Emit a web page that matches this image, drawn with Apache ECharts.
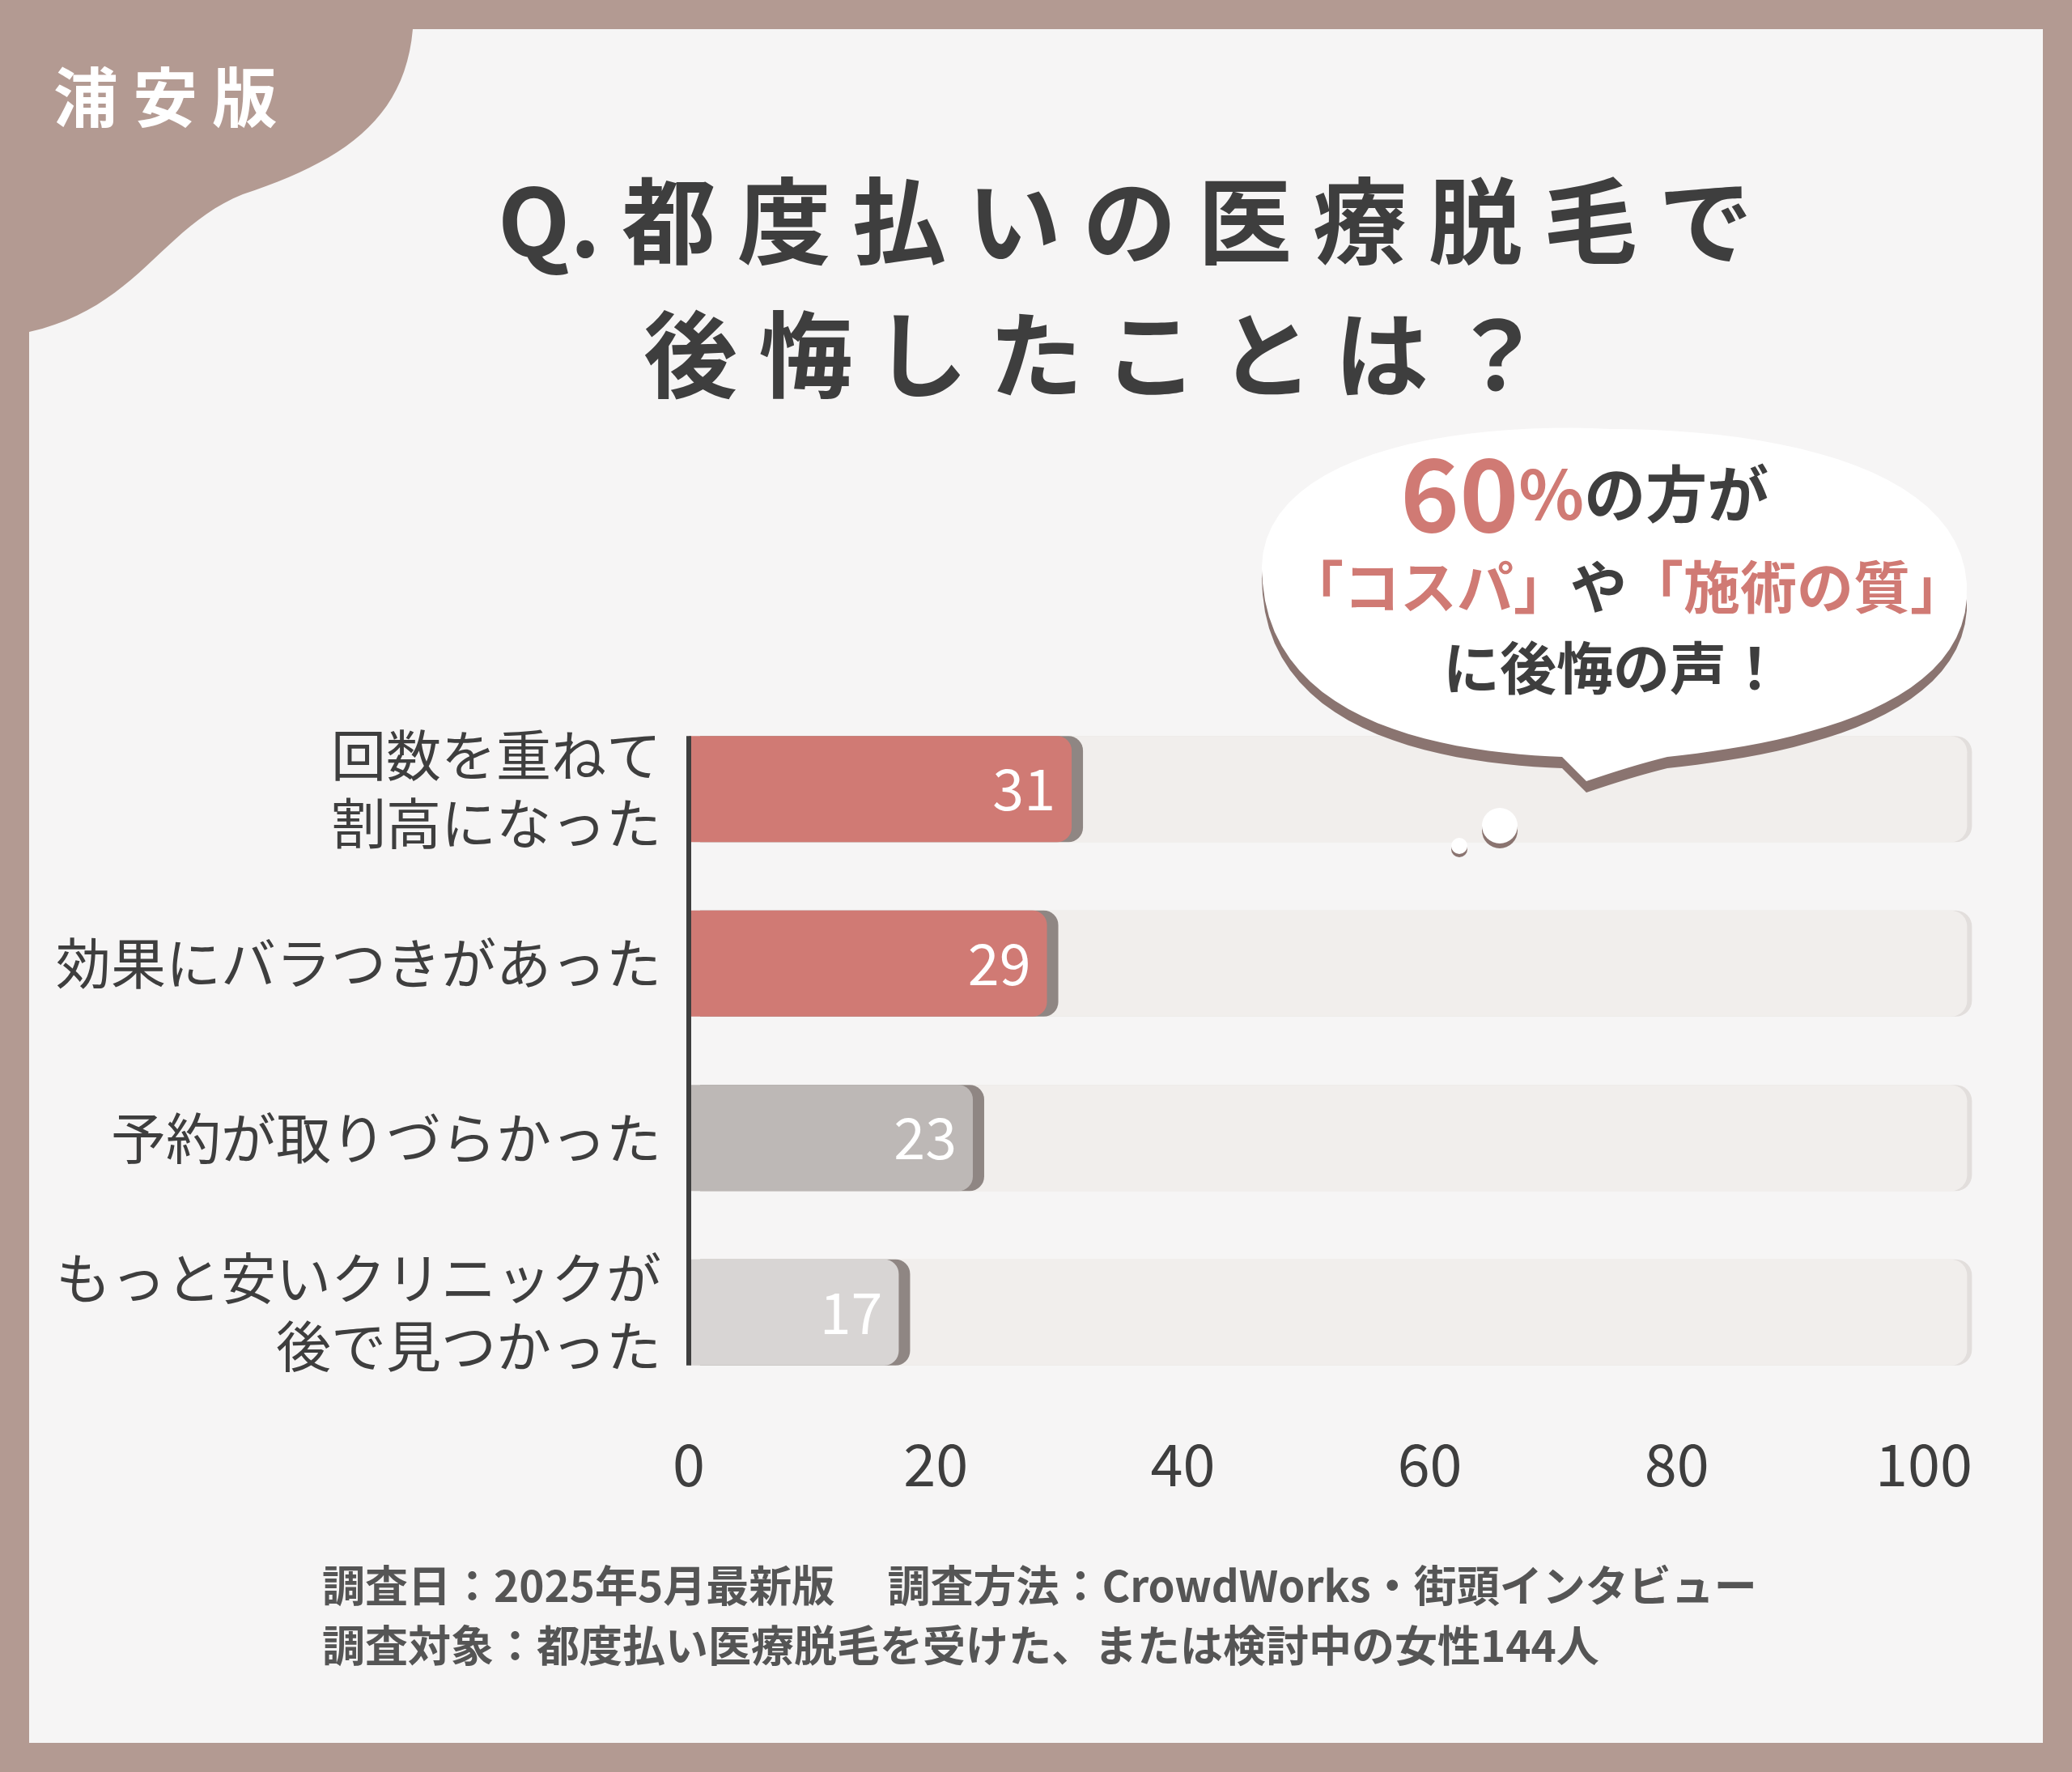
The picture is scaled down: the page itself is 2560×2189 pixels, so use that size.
<!DOCTYPE html>
<html><head><meta charset="utf-8">
<script src="https://cdn.jsdelivr.net/npm/echarts@6/dist/echarts.min.js"></script>
<style>html,body{margin:0;padding:0;background:#b39a92}#c{width:2560px;height:2189px}</style>
</head><body><div id="c"></div>
<script>
const categories = ["回数を重ねて\n割高になった","効果にバラつきがあった","予約が取りづらかった","もっと安いクリニックが\n後で見つかった"];
const values = [31, 29, 23, 17];
const trackEnd = [103.5, 103.5, 103.5, 103.5];
const barColors = ["#d07a74","#d07a74","#bdb8b6","#d8d5d4"];
const xTicks = [0,20,40,60,80,100];
const F = '"Noto Sans CJK JP", sans-serif';
function bez(segs){
  const pts=[]; let p=segs[0];
  for(let s=1;s<segs.length;s++){const [a,b,c]=segs[s];
    for(let i=0;i<=24;i++){const t=i/24,u=1-t;
      pts.push([u*u*u*p[0]+3*u*u*t*a[0]+3*u*t*t*b[0]+t*t*t*c[0],u*u*u*p[1]+3*u*u*t*a[1]+3*u*t*t*b[1]+t*t*t*c[1]]);}
    p=c;}
  return pts;}
const tabPts=[[36,36],[510,36]].concat(bez([[510,36],[[500,150],[420,200],[300,240]],[[200,280],[170,380],[36,410]]]));
const bubblePts=bez([[1560,720],[[1540,560],[1800,520],[1990,530]],[[2200,530],[2440,580],[2430,740]],[[2420,880],[2200,920],[2060,935]],[[2020,945],[1990,955],[1960,965]],[[1950,955],[1940,945],[1930,935]],[[1800,930],[1575,900],[1560,720]]]);
const chart = echarts.init(document.getElementById('c'));
const baseGraphic=[
    {type:'rect',shape:{x:36,y:36,width:2488,height:2117},style:{fill:'#f6f5f5'},z:-10},
    {type:'polygon',shape:{points:tabPts},style:{fill:'#b39a92'},z:-5},
    {type:'text',left:66,top:80,style:{text:'浦 安 版',fill:'#fff',font:'bold 80px '+F}},
    {type:'text',left:615,top:215,style:{text:'Q. 都 度 払 い の 医 療 脱 毛 で',fill:'#3e3e3e',font:'bold 116px '+F}},
    {type:'text',left:795,top:380,style:{text:'後 悔 し た こ と は ？',fill:'#3e3e3e',font:'bold 116px '+F}},
    {type:'polygon',shape:{points:bubblePts},style:{fill:'#fff',shadowColor:'#8a7470',shadowOffsetY:14,shadowBlur:0},z:5},
    {type:'circle',shape:{cx:1853,cy:1020,r:22},style:{fill:'#fff',shadowColor:'#8a7470',shadowOffsetY:6},z:5},
    {type:'circle',shape:{cx:1803,cy:1045,r:10},style:{fill:'#fff',shadowColor:'#8a7470',shadowOffsetY:4},z:5},
    {type:'text',left:1730,top:548,z:6,style:{rich:{a:{fill:'#d07a74',font:'bold 124px '+F},b:{fill:'#d07a74',font:'bold 84px '+F},c:{fill:'#3e3e3e',font:'bold 76px '+F}},text:'{a|60}{b|%}{c|の方が}'}},
    {type:'text',left:1590,top:690,z:6,style:{rich:{r:{fill:'#d07a74',font:'bold 70px '+F},k:{fill:'#3e3e3e',font:'bold 70px '+F}},text:'{r|「コスパ」}{k|や}{r|「施術の質」}'}},
    {type:'text',left:1783,top:790,z:6,style:{text:'に後悔の声！',fill:'#3e3e3e',font:'bold 70px '+F}},
    {type:'text',left:398,top:1922,style:{text:'調査日：2025年5月最新版　 調査方法：CrowdWorks・街頭インタビュー\n調査対象：都度払い医療脱毛を受けた、または検討中の女性144人',fill:'#555',font:'bold 53px '+F,lineHeight:74}}
];
chart.setOption({
  backgroundColor:'#b39a92',
  graphic:baseGraphic,
  grid:{left:851,right:183,top:867,bottom:460},
  xAxis:{type:'value',min:0,max:100,interval:20,splitLine:{show:false},axisLine:{show:false},axisTick:{show:false},
    axisLabel:{color:'#3e3e3e',fontSize:72,fontFamily:F,margin:44,formatter:v=>xTicks.includes(v)?String(v):''}},
  yAxis:{type:'category',inverse:true,data:categories,axisTick:{show:false},axisLine:{show:false},
    axisLabel:{color:'#3e3e3e',fontSize:68,fontFamily:F,margin:34,lineHeight:84,align:'right'}},
  series:[
    {type:'bar',data:trackEnd,barWidth:131,barGap:'-100%',silent:true,clip:false,
     itemStyle:{color:'#f1eeec',borderRadius:[0,20,20,0],shadowColor:'#e2dedc',shadowOffsetX:6},z:1},
    {type:'bar',data:values.map((v,i)=>({value:v,itemStyle:{color:barColors[i]}})),barWidth:131,
     itemStyle:{borderRadius:[0,18,18,0],shadowColor:'#8f8683',shadowOffsetX:14},z:3,
     label:{show:true,position:'insideRight',color:'#fff',fontSize:70,fontFamily:F,distance:20}}
  ]
});
const pTop=chart.convertToPixel({gridIndex:0},[0,categories[0]]);
const pBot=chart.convertToPixel({gridIndex:0},[0,categories[categories.length-1]]);
chart.setOption({graphic:baseGraphic.concat([{type:'line',shape:{x1:pTop[0],y1:pTop[1]-65.5,x2:pBot[0],y2:pBot[1]+65.5},style:{stroke:'#3e3e3e',lineWidth:6},z:10}])});
</script></body></html>
